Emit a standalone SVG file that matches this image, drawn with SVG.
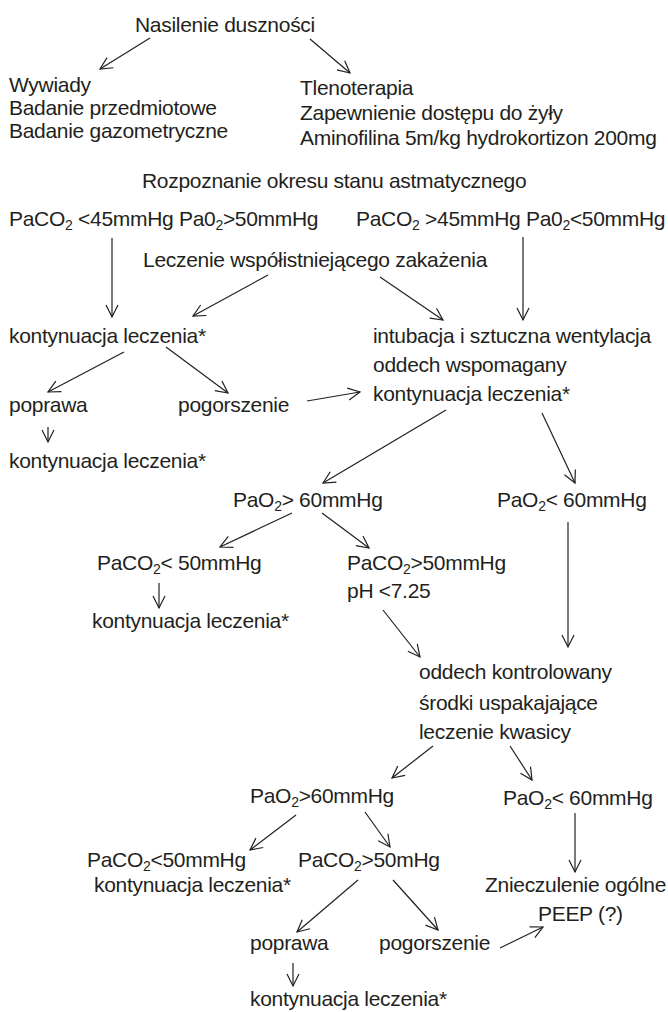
<svg xmlns="http://www.w3.org/2000/svg" width="668" height="1012" viewBox="0 0 668 1012">
<style>
text{font-family:"Liberation Sans",Arial,sans-serif;font-size:21px;letter-spacing:-0.3px;fill:#231f20}
.s{font-size:14px}
.c line{stroke:#231f20;stroke-width:1.2;marker-end:url(#a)}
</style>
<defs>
<marker id="a" markerUnits="userSpaceOnUse" markerWidth="16" markerHeight="16" refX="13" refY="8" orient="auto">
<path d="M1,2 L13,8 L1,14" fill="none" stroke="#231f20" stroke-width="1.2"/>
</marker>
</defs>
<rect width="668" height="1012" fill="#fff"/>
<g id="n1"><text x="135" y="32">Nasilenie duszności</text></g>
<g id="n2"><text x="9" y="92">Wywiady</text><text x="9" y="115">Badanie przedmiotowe</text><text x="9" y="138">Badanie gazometryczne</text></g>
<g id="n3"><text x="300" y="95">Tlenoterapia</text><text x="300" y="120">Zapewnienie dostępu do żyły</text><text x="300" y="145">Aminofilina 5m/kg hydrokortizon 200mg</text></g>
<g id="n4"><text x="142" y="188">Rozpoznanie okresu stanu astmatycznego</text></g>
<g id="n5"><text x="9" y="226">PaCO<tspan class="s" dy="4">2</tspan><tspan dy="-4"> &lt;45mmHg Pa0</tspan><tspan class="s" dy="4">2</tspan><tspan dy="-4">&gt;50mmHg</tspan></text></g>
<g id="n6"><text x="356" y="226">PaCO<tspan class="s" dy="4">2</tspan><tspan dy="-4"> &gt;45mmHg Pa0</tspan><tspan class="s" dy="4">2</tspan><tspan dy="-4">&lt;50mmHg</tspan></text></g>
<g id="n7"><text x="143" y="267">Leczenie współistniejącego zakażenia</text></g>
<g id="n8"><text x="9" y="343">kontynuacja leczenia*</text></g>
<g id="n9"><text x="373" y="343">intubacja i sztuczna wentylacja</text><text x="373" y="372">oddech wspomagany</text><text x="373" y="401">kontynuacja leczenia*</text></g>
<g id="n10"><text x="9" y="412">poprawa</text></g>
<g id="n11"><text x="178" y="412">pogorszenie</text></g>
<g id="n12"><text x="9" y="468">kontynuacja leczenia*</text></g>
<g id="n13"><text x="233" y="507">PaO<tspan class="s" dy="4">2</tspan><tspan dy="-4">&gt; 60mmHg</tspan></text></g>
<g id="n14"><text x="497" y="507">PaO<tspan class="s" dy="4">2</tspan><tspan dy="-4">&lt; 60mmHg</tspan></text></g>
<g id="n15"><text x="97" y="570">PaCO<tspan class="s" dy="4">2</tspan><tspan dy="-4">&lt; 50mmHg</tspan></text></g>
<g id="n16"><text x="347" y="570">PaCO<tspan class="s" dy="4">2</tspan><tspan dy="-4">&gt;50mmHg</tspan></text><text x="347" y="598">pH &lt;7.25</text></g>
<g id="n17"><text x="92" y="628">kontynuacja leczenia*</text></g>
<g id="n18"><text x="419" y="679">oddech kontrolowany</text><text x="419" y="710">środki uspakajające</text><text x="419" y="739">leczenie kwasicy</text></g>
<g id="n19"><text x="250" y="803">PaO<tspan class="s" dy="4">2</tspan><tspan dy="-4">&gt;60mmHg</tspan></text></g>
<g id="n20"><text x="503" y="805">PaO<tspan class="s" dy="4">2</tspan><tspan dy="-4">&lt; 60mmHg</tspan></text></g>
<g id="n21"><text x="87" y="867">PaCO<tspan class="s" dy="4">2</tspan><tspan dy="-4">&lt;50mmHg</tspan></text><text x="94" y="892">kontynuacja leczenia*</text></g>
<g id="n22"><text x="298" y="867">PaCO<tspan class="s" dy="4">2</tspan><tspan dy="-4">&gt;50mHg</tspan></text></g>
<g id="n23"><text x="485" y="892">Znieczulenie ogólne</text><text x="538" y="921">PEEP (?)</text></g>
<g id="n24"><text x="250" y="950">poprawa</text></g>
<g id="n25"><text x="379" y="950">pogorszenie</text></g>
<g id="n26"><text x="250" y="1006">kontynuacja leczenia*</text></g>
<g id="connectors" class="c">
<line x1="150" y1="38" x2="100" y2="69"/>
<line x1="310" y1="39" x2="350" y2="73"/>
<line x1="112" y1="238" x2="112" y2="317"/>
<line x1="268" y1="275" x2="193" y2="316"/>
<line x1="380" y1="277" x2="443" y2="320"/>
<line x1="523" y1="237" x2="523" y2="320"/>
<line x1="124" y1="352" x2="48" y2="392"/>
<line x1="166" y1="347" x2="228" y2="393"/>
<line x1="48" y1="427" x2="48" y2="442"/>
<line x1="307" y1="401" x2="360" y2="392"/>
<line x1="446" y1="410" x2="323" y2="483"/>
<line x1="542" y1="413" x2="575" y2="483"/>
<line x1="292" y1="513" x2="220" y2="547"/>
<line x1="322" y1="513" x2="369" y2="548"/>
<line x1="159" y1="583" x2="159" y2="608"/>
<line x1="383" y1="610" x2="420" y2="657"/>
<line x1="568" y1="522" x2="568" y2="647"/>
<line x1="433" y1="746" x2="392" y2="778"/>
<line x1="510" y1="746" x2="532" y2="780"/>
<line x1="296" y1="815" x2="250" y2="850"/>
<line x1="365" y1="812" x2="390" y2="847"/>
<line x1="575" y1="813" x2="575" y2="872"/>
<line x1="358" y1="880" x2="297" y2="932"/>
<line x1="393" y1="880" x2="438" y2="930"/>
<line x1="500" y1="948" x2="543" y2="927"/>
<line x1="293" y1="963" x2="293" y2="986"/>
</g>
</svg>
